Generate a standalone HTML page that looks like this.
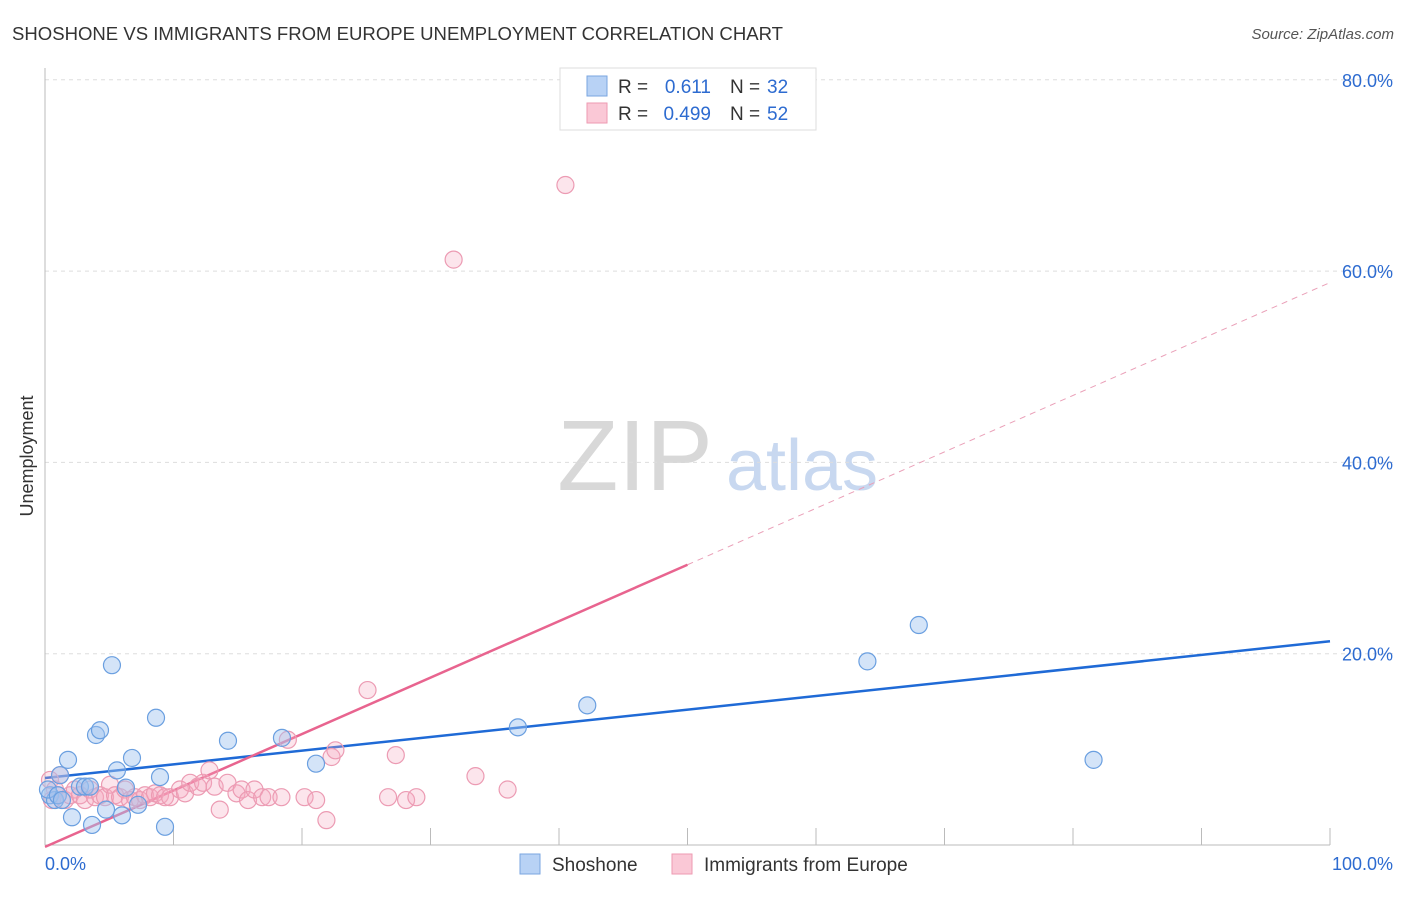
<!DOCTYPE html>
<html><head><meta charset="utf-8"><style>
body{margin:0;background:#fff;font-family:"Liberation Sans",sans-serif;}
svg text{font-family:"Liberation Sans",sans-serif;}
</style></head><body>
<svg id="chart" width="1406" height="892" viewBox="0 0 1406 892">
<text x="12" y="40" font-size="18" fill="#333" textLength="771" lengthAdjust="spacingAndGlyphs">SHOSHONE VS IMMIGRANTS FROM EUROPE UNEMPLOYMENT CORRELATION CHART</text>
<text x="1394" y="39" font-size="15" fill="#555" text-anchor="end" font-style="italic">Source: ZipAtlas.com</text>
<text x="0" y="0" font-size="18" fill="#333" text-anchor="middle" transform="translate(33,456) rotate(-90)">Unemployment</text>
<g>
<text x="635" y="490" font-size="100" fill="#d8d8d8" font-family="Liberation Serif,serif" text-anchor="middle">ZIP</text>
<text x="802" y="490" font-size="72" fill="#c8d8f0" text-anchor="middle">atlas</text>
</g>
<g id="grid"></g><g id="axes"></g><g id="lines"></g><g id="pts"></g>
<g>
<rect x="560" y="68" width="256" height="62" fill="#fff" stroke="#ddd"/>
<rect x="587" y="76" width="20" height="20" fill="#b8d2f5" stroke="#7aa6e0"/>
<rect x="587" y="103" width="20" height="20" fill="#fac8d6" stroke="#ee9ab2"/>
<text x="618" y="93" font-size="19" fill="#333">R =</text><text x="711" y="93" font-size="19" fill="#2d6bd0" text-anchor="end">0.611</text>
<text x="730" y="93" font-size="19" fill="#333">N =</text><text x="767" y="93" font-size="19" fill="#2d6bd0">32</text>
<text x="618" y="120" font-size="19" fill="#333">R =</text><text x="711" y="120" font-size="19" fill="#2d6bd0" text-anchor="end">0.499</text>
<text x="730" y="120" font-size="19" fill="#333">N =</text><text x="767" y="120" font-size="19" fill="#2d6bd0">52</text>
</g>
<g>
<rect x="520" y="854" width="20" height="20" fill="#b8d2f5" stroke="#7aa6e0"/>
<text x="552" y="871" font-size="19" fill="#333">Shoshone</text>
<rect x="672" y="854" width="20" height="20" fill="#fac8d6" stroke="#ee9ab2"/>
<text x="704" y="871" font-size="19" fill="#333">Immigrants from Europe</text>
</g>
</svg>
<script>
const yTicks=[20,40,60,80];
const yTickLabels=["20.0%","40.0%","60.0%","80.0%"];
const xTicks=[0,10,20,30,40,50,60,70,80,90,100];
const blueX=[0.39,0.78,1.17,1.79,2.1,2.72,3.11,3.5,3.66,3.97,4.28,4.75,5.21,5.6,5.99,6.3,6.77,7.24,8.64,8.95,9.34,14.24,18.44,21.09,36.8,42.2,64.0,68.0,81.6,0.23,1.0,1.32];
const blueY=[5.2,4.7,7.3,8.9,2.9,6.1,6.1,6.1,2.1,11.5,12.0,3.7,18.8,7.8,3.1,6.0,9.1,4.2,13.3,7.1,1.9,10.9,11.2,8.5,12.3,14.6,19.2,23.0,8.9,5.8,5.2,4.7];
const pinkX=[0.39,0.54,0.78,1.0,1.17,1.56,1.95,2.33,2.72,3.11,3.5,3.89,4.28,4.67,5.06,5.45,5.84,6.23,6.61,7.0,7.39,7.78,8.17,8.56,8.95,9.34,9.73,10.5,10.9,11.3,11.9,12.3,12.8,13.2,13.6,14.2,14.9,15.3,15.8,16.3,16.9,17.4,18.4,18.9,20.2,21.1,21.9,22.3,22.6,25.1,26.7,27.3,28.1,28.9,33.5,36.0,31.8,40.5];
const pinkY=[6.8,4.7,5.8,5.2,7.3,4.7,5.2,5.8,5.2,4.7,5.8,5.0,5.2,5.0,6.3,5.2,5.0,5.8,4.7,5.0,4.7,5.2,5.0,5.4,5.2,5.0,5.0,5.8,5.4,6.5,6.1,6.5,7.8,6.1,3.7,6.5,5.4,5.8,4.7,5.8,5.0,5.0,5.0,11.0,5.0,4.7,2.6,9.2,9.9,16.2,5.0,9.4,4.7,5.0,7.2,5.8,61.2,69.0];
const blueTrend=[7.0,21.3];
const pinkTrend=[-0.2,58.8];
const pinkSolidEnd=50;
const NS="http://www.w3.org/2000/svg";
const xs=v=>45+v*12.85, ys=v=>845-v*9.565;
function mk(p,t,a){const e=document.createElementNS(NS,t);for(const k in a)e.setAttribute(k,a[k]);document.getElementById(p).appendChild(e);return e;}
yTicks.forEach((t,i)=>{
 let g=mk('grid','line',{x1:45,x2:1395,y1:ys(t),y2:ys(t),stroke:'#ddd','stroke-dasharray':'4,4'});
 
 
 let l=mk('grid','text',{x:1393,y:ys(t)+7,'font-size':18,fill:'#2d6bd0','text-anchor':'end'});l.textContent=yTickLabels[i];
 
 
});
let ax=mk('axes','line',{x1:45,x2:1330,y1:845,y2:845,stroke:'#bbb'});


let ay=mk('axes','line',{x1:45,x2:45,y1:68,y2:845,stroke:'#bbb'});


xTicks.forEach(t=>{let k=mk('axes','line',{x1:xs(t),x2:xs(t),y1:828,y2:845,stroke:'#bbb'});
 
 });
let x0=mk('axes','text',{x:45,y:870,'font-size':18,fill:'#2d6bd0'});x0.textContent='0.0%';


let x1=mk('axes','text',{x:1393,y:870,'font-size':18,fill:'#2d6bd0','text-anchor':'end'});x1.textContent='100.0%';


function pts(X,Y,fill,stroke,name){X.forEach((x,i)=>{let c=mk('pts','circle',{cx:xs(x),cy:ys(Y[i]),r:8.5,fill:fill,stroke:stroke,'stroke-width':1.2});
 
 });}
pts(pinkX,pinkY,'rgba(245,170,192,0.3)','#ec9bb3','immigrants-europe-point');
pts(blueX,blueY,'rgba(160,195,240,0.45)','#6a9fe0','shoshone-point');
let bl=mk('lines','line',{x1:xs(0),y1:ys(blueTrend[0]),x2:xs(100),y2:ys(blueTrend[1]),stroke:'#1f6ad6','stroke-width':2.5});


const pAt=x=>pinkTrend[0]+(pinkTrend[1]-pinkTrend[0])*x/100;
let pl=mk('lines','line',{x1:xs(0),y1:ys(pAt(0)),x2:xs(pinkSolidEnd),y2:ys(pAt(pinkSolidEnd)),stroke:'#e8648f','stroke-width':2.5});


let pd=mk('lines','line',{x1:xs(pinkSolidEnd),y1:ys(pAt(pinkSolidEnd)),x2:xs(100),y2:ys(pAt(100)),stroke:'#eaa0b8','stroke-width':1,'stroke-dasharray':'6,5'});


</script>
</body></html>
